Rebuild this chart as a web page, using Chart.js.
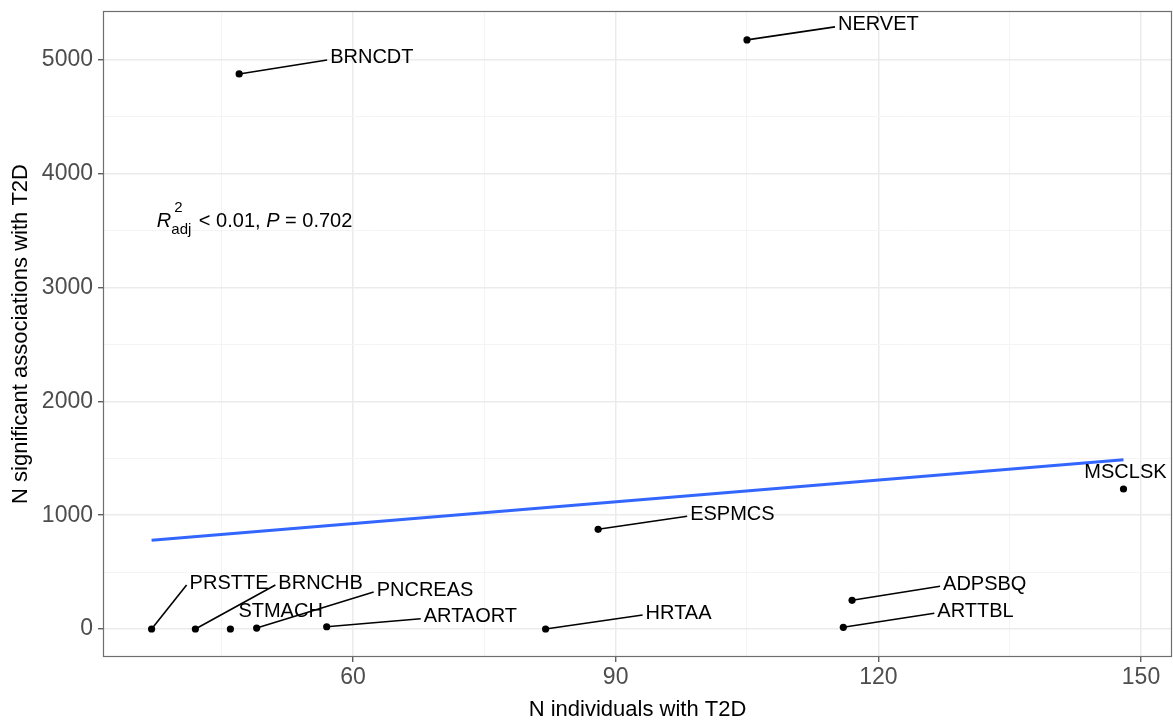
<!DOCTYPE html>
<html><head><meta charset="utf-8">
<script src="https://cdn.jsdelivr.net/npm/chart.js@4/dist/chart.umd.min.js"></script>
<style>html,body{margin:0;padding:0;background:#fff;overflow:hidden}#wrap{width:1173px;height:721px}canvas{display:block}</style>
</head><body><div id="wrap"><canvas id="c" width="1173" height="721"></canvas></div>
<script>
// ---- data ----
const tissues        = ['PRSTTE','BRNCHB','STMACH','PNCREAS','ARTAORT','HRTAA','ESPMCS','ADPSBQ','ARTTBL','MSCLSK','NERVET','BRNCDT'];
const nIndividuals   = [37, 42, 46, 49, 57, 82, 88, 117, 116, 148, 105, 47];
const nAssociations  = [0, 0, 0, 8, 20, 0, 876, 252, 15, 1230, 5176, 4877];
const fitX           = [37, 148];
const fitY           = [780, 1487];
const xTickValues    = [45, 60, 75, 90, 105, 120, 135, 150];
const xMajorTicks    = [60, 90, 120, 150];
const yTickValues    = [0, 500, 1000, 1500, 2000, 2500, 3000, 3500, 4000, 4500, 5000];
const yMajorTicks    = [0, 1000, 2000, 3000, 4000, 5000];
const xTitle = 'N individuals with T2D';
const yTitle = 'N significant associations with T2D';

// ---- label placement (pixel offsets from point to label left/centre) ----
const labelLayout = {
  PRSTTE:  {dx: 38, dy: -46, seg: true},
  BRNCHB:  {dx: 83, dy: -46, seg: true},
  STMACH:  {dx: 8,  dy: -18, seg: false},
  PNCREAS: {dx: 120, dy: -38, seg: true},
  ARTAORT: {dx: 97, dy: -10, seg: true},
  HRTAA:   {dx: 100, dy: -16, seg: true},
  ESPMCS:  {dx: 92, dy: -15, seg: true},
  ADPSBQ:  {dx: 91, dy: -16, seg: true},
  ARTTBL:  {dx: 94, dy: -16, seg: true},
  MSCLSK:  {dx: 2,  dy: -17, seg: false, center: true},
  NERVET:  {dx: 91, dy: -15, seg: true},
  BRNCDT:  {dx: 91, dy: -16, seg: true}
};

const FONT = "'Liberation Sans', Arial, Helvetica, sans-serif";

const points = nIndividuals.map((x, i) => ({x: x, y: nAssociations[i]}));
const fitLine = fitX.map((x, i) => ({x: x, y: fitY[i]}));

const isMajorX = v => xMajorTicks.includes(v);
const isMajorY = v => yMajorTicks.includes(v);
const zeroPad = s => { s.paddingLeft = 0; s.paddingRight = 0; s.paddingTop = 0; s.paddingBottom = 0; };

// stretch the panel to its intended right edge
const areaPlugin = {
  id: 'area',
  afterLayout(chart) {
    const a = chart.chartArea;
    const target = chart.width - 1;
    if (Math.abs(a.right - target) > 0.5) {
      a.right = target;
      a.width = a.right - a.left;
      const x = chart.scales.x;
      x.right = target;
      x.width = x.right - x.left;
      x.configure();
    }
  }
};

const decorPlugin = {
  id: 'decor',
  afterDatasetsDraw(chart) {
    const {ctx, chartArea: a, scales: {x, y}} = chart;
    ctx.save();
    ctx.font = '20px ' + FONT;
    ctx.fillStyle = '#000';
    ctx.strokeStyle = '#000';
    ctx.lineWidth = 1.6;
    ctx.textBaseline = 'middle';
    tissues.forEach((t, i) => {
      const px = x.getPixelForValue(nIndividuals[i]);
      const py = y.getPixelForValue(nAssociations[i]);
      const L = labelLayout[t];
      const lx = px + L.dx, ly = py + L.dy;
      if (L.seg) {
        ctx.beginPath();
        ctx.moveTo(px, py);
        ctx.lineTo(lx - 3, ly + 2);
        ctx.stroke();
      }
      ctx.textAlign = L.center ? 'center' : 'left';
      ctx.fillText(t, lx, ly);
    });
    // annotation
    const ax = x.getPixelForValue(37.6), ay = y.getPixelForValue(3530);
    ctx.textBaseline = 'alphabetic';
    ctx.textAlign = 'left';
    ctx.font = 'italic 20px ' + FONT;
    ctx.fillText('R', ax, ay);
    let cx = ax + ctx.measureText('R').width;
    ctx.font = '15px ' + FONT;
    ctx.fillText('2', cx + 3, ay - 15);
    ctx.fillText('adj', cx, ay + 7);
    cx += ctx.measureText('adj').width + 2;
    ctx.font = '20px ' + FONT;
    const s1 = ' < 0.01, ';
    ctx.fillText(s1, cx, ay);
    cx += ctx.measureText(s1).width;
    ctx.font = 'italic 20px ' + FONT;
    ctx.fillText('P', cx, ay);
    cx += ctx.measureText('P').width;
    ctx.font = '20px ' + FONT;
    ctx.fillText(' = 0.702', cx, ay);
    // panel border
    ctx.strokeStyle = '#6e6e6e';
    ctx.lineWidth = 1.2;
    ctx.strokeRect(Math.round(a.left) + 0.5, Math.round(a.top) + 0.5, Math.round(a.right - a.left) - 1, Math.round(a.bottom - a.top) - 1);
    ctx.restore();
  }
};

new Chart(document.getElementById('c'), {
  type: 'scatter',
  data: {
    datasets: [
      {
        type: 'line',
        data: fitLine,
        borderColor: '#3366FF',
        borderWidth: 3,
        pointRadius: 0,
        fill: false,
        order: 2
      },
      {
        data: points,
        backgroundColor: '#000',
        borderColor: '#000',
        pointRadius: 3.6,
        pointBorderWidth: 0,
        order: 1
      }
    ]
  },
  options: {
    responsive: false,
    devicePixelRatio: 1,
    animation: false,
    layout: {padding: {left: 0, right: 1, top: 11, bottom: 0}},
    plugins: {legend: {display: false}, tooltip: {enabled: false}},
    scales: {
      x: {
        type: 'linear',
        min: 31.45,
        max: 153.54,
        afterBuildTicks: s => { s.ticks = xTickValues.map(v => ({value: v})); },
        afterFit: s => { s.height = 64; zeroPad(s); },
        border: {display: false},
        grid: {
          color: c => isMajorX(c.tick && c.tick.value) ? '#EBEBEB' : '#F4F4F4',
          lineWidth: c => isMajorX(c.tick && c.tick.value) ? 1.5 : 1,
          tickColor: c => isMajorX(c.tick && c.tick.value) ? '#444' : 'rgba(0,0,0,0)',
          tickLength: 5,
          tickWidth: 1.2
        },
        ticks: {
          autoSkip: false, maxRotation: 0,
          padding: 2,
          color: '#4D4D4D',
          font: {family: FONT, size: 23},
          callback: v => isMajorX(v) ? String(v) : ''
        },
        title: {
          display: true, text: xTitle, color: '#000',
          font: {family: FONT, size: 22, lineHeight: 1.0},
          padding: {top: 0, bottom: 0}
        }
      },
      y: {
        type: 'linear',
        min: -246,
        max: 5430,
        afterBuildTicks: s => { s.ticks = yTickValues.map(v => ({value: v})); },
        afterFit: s => { s.width = 103; zeroPad(s); },
        border: {display: false},
        grid: {
          color: c => isMajorY(c.tick && c.tick.value) ? '#EBEBEB' : '#F4F4F4',
          lineWidth: c => isMajorY(c.tick && c.tick.value) ? 1.5 : 1,
          tickColor: c => isMajorY(c.tick && c.tick.value) ? '#444' : 'rgba(0,0,0,0)',
          tickLength: 5,
          tickWidth: 1.2
        },
        ticks: {
          autoSkip: false,
          padding: 5,
          color: '#4D4D4D',
          font: {family: FONT, size: 23},
          callback: v => isMajorY(v) ? String(v) : ''
        },
        title: {
          display: true, text: yTitle, color: '#000',
          font: {family: FONT, size: 22, lineHeight: 1.0},
          padding: {top: 10, bottom: 0}
        }
      }
    }
  },
  plugins: [areaPlugin, decorPlugin]
});
</script>
</body></html>
